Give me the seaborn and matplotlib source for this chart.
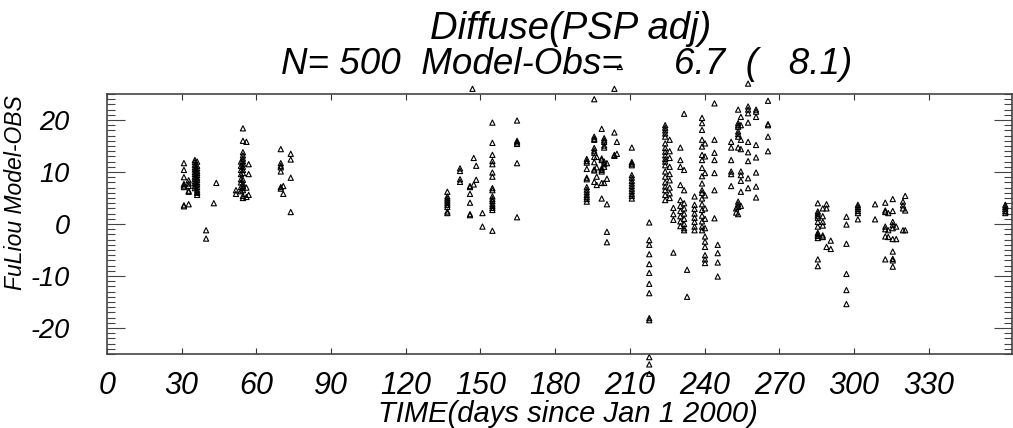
import matplotlib
matplotlib.use("Agg")
import matplotlib.pyplot as plt
import seaborn as sns
import pandas as pd
from matplotlib.ticker import MultipleLocator, FixedLocator

# ---- data: day of year (column) and Model-Obs differences (W/m2) ----
col_days = [
    30.9, 32.8, 35.3, 36.2, 39.8, 42.9, 43.9, 51.8, 53.8, 54.6, 56.0, 56.9,
    69.8, 70.8, 73.8,
    136.7, 141.8, 145.8, 146.8, 147.3, 148.3, 150.8, 154.8, 164.7,
    192.7, 195.7, 196.7, 198.7, 199.7, 200.8, 203.8, 204.8, 206.0, 210.8,
    217.8, 224.2, 226.0, 227.5, 230.3, 231.8, 233.0, 236.0, 239.0, 240.2,
    244.0, 245.3, 250.7, 252.7, 253.5, 254.6, 257.5, 260.7, 265.5,
    285.5, 287.5, 289.0, 290.7, 297.0, 301.6, 308.5, 312.6, 313.8, 315.6,
    317.0, 319.7, 320.6, 360.8,
]
col_values = [
    [11.7, 10.4, 9.0, 7.7, 7.4, 7.1, 3.4, 3.6],
    [7.8, 7.3, 6.4, 6.2, 3.8, 8.4],
    [12.3, 11.9, 11.4, 10.9, 10.5, 10.0, 9.6, 9.1, 8.7, 8.2, 7.8, 7.3, 6.9],
    [12.0, 11.2, 10.7, 10.2, 9.8, 9.4, 8.9, 8.5, 8.0, 7.6, 7.1, 6.6, 6.2, 5.6, 6.0],
    [-1.2, -2.8],
    [4.0],
    [7.9],
    [6.5, 5.8],
    [12.0, 11.2, 10.4, 9.6, 8.6, 8.0, 7.1, 6.3],
    [18.4, 16.0, 13.8, 13.2, 12.6, 12.1, 11.6, 11.0, 10.4, 9.8, 8.5, 7.8, 7.3, 6.9, 6.5, 5.4, 5.0],
    [15.8, 7.0, 5.2],
    [11.5, 9.6, 5.6],
    [14.4, 11.7, 11.2, 10.9, 10.1, 7.1, 6.8],
    [7.3, 5.8],
    [13.5, 12.4, 8.9, 2.3],
    [6.2, 5.3, 4.9, 4.5, 4.1, 3.7, 3.3, 2.4, 2.1],
    [10.7, 10.2, 8.6, 8.1],
    [7.3, 7.1, 5.8, 4.1, 1.9, 1.7],
    [26.0],
    [12.7, 7.6],
    [11.2, 8.5],
    [2.1, -0.5],
    [19.5, 15.6, 13.3, 12.1, 11.5, 9.9, 9.1, 6.9, 6.5, 5.3, 4.8, 4.4, 3.9, 3.5, 3.1, 2.7, -1.3],
    [19.9, 16.0, 15.7, 15.4, 11.7, 1.3],
    [12.5, 12.1, 11.8, 10.6, 8.9, 8.6, 7.1, 6.6, 6.1, 5.6, 5.2, 4.8, 4.3],
    [24.0, 16.8, 16.4, 16.2, 14.6, 14.1, 13.7, 12.9, 11.9, 10.5, 10.3, 8.1],
    [12.9, 10.9, 9.1, 7.5],
    [18.3, 12.6, 12.3, 10.7, 10.4, 10.1, 7.9, 4.9],
    [16.5, 16.1, 15.8, 15.1, 14.7, 12.0, 11.5, 11.0, 7.9],
    [11.7, 8.7, 3.8, -1.5, -3.5],
    [26.0, 17.6, 13.3, 13.1],
    [15.8, 13.5],
    [30.2],
    [14.7, 11.9, 11.6, 11.3, 9.4, 8.9, 8.3, 7.8, 7.3, 6.8, 6.3, 5.8, 5.4, 4.9],
    [0.3, -3.1, -4.0, -5.8, -7.7, -9.4, -11.5, -13.3, -18.1, -18.5, -25.6, -27.0, -28.8],
    [19.0, 18.5, 18.0, 17.4, 16.8, 15.5, 14.6, 13.9, 13.2, 12.5, 12.0, 11.3, 10.1, 9.1, 8.0, 7.2, 6.5, 5.6, 4.6],
    [16.2, 14.0, 12.7, 11.0, 9.6, 8.4, 7.0, 5.9, 5.0],
    [3.1, 1.9, 0.8, -5.5],
    [14.7, 12.3, 11.0, 7.5, 4.6, 3.5, 2.5, 1.5, 0.5, -0.4],
    [21.2, 10.4, 6.5, 4.0, 3.0, 2.0, 1.0, 0.0, -0.8, -1.2],
    [-8.8, -14.0],
    [5.3, 3.7, 2.9, 2.0, 1.2, 0.4, -0.5, -1.2],
    [20.4, 19.4, 18.1, 16.2, 14.9, 13.3, 12.3, 10.8, 9.2, 7.8, 6.5, 6.0, 4.9, 3.8, 2.7, 1.6, 0.5, -0.5, -1.2],
    [15.5, 13.0, 9.8, 5.5, 3.0, 1.0, -0.8, -2.4, -3.4, -4.4, -6.0, -6.8, -7.5],
    [23.2, 16.2, 13.7, 12.3, 9.8, 6.5, 1.1],
    [-4.0, -5.6, -7.4, -10.1],
    [15.8, 14.7, 12.3, 10.1, 9.6, 7.3],
    [3.0, 2.2],
    [22.0, 19.4, 19.0, 18.7, 17.8, 17.3, 16.8, 14.7, 4.3, 3.8, 3.3, 1.9],
    [20.6, 19.0, 16.2, 14.4, 10.1, 9.4, 8.3, 6.2, 3.5],
    [27.0, 22.6, 22.0, 21.3, 19.5, 15.8, 13.8, 12.1, 8.8, 6.9],
    [22.0, 21.6, 20.6, 15.2, 12.8, 9.9, 7.2, 5.1],
    [23.7, 19.2, 19.0, 16.8, 14.0],
    [4.0, 2.4, 2.0, 1.6, 1.2, 0.4, -0.5, -1.7, -2.0, -2.3, -2.7, -6.8, -8.1],
    [3.0, 1.5, 0.4, -0.3, -2.2, -2.5],
    [3.8, 3.0, -4.4],
    [-3.2, -4.8],
    [1.4, -0.1, -3.8, -9.6, -12.7, -15.4],
    [3.7, 3.3, 2.9, 2.5, 2.1, 0.9],
    [3.8, 0.9],
    [4.1, 2.6, 2.3, -0.5, -1.0, -2.4, -6.8],
    [2.1, -1.2, -2.5],
    [4.8, 2.5, 0.4, -0.2, -0.8, -2.9, -5.3, -6.7, -8.2, -7.0],
    [-0.5, -2.9],
    [4.3, 3.6, 3.0, -1.2],
    [5.4, 2.6, -1.2],
    [3.7, 3.3, 2.9, 2.5, 2.1],
]
x_ticks = [0, 30, 60, 90, 120, 150, 180, 210, 240, 270, 300, 330]
y_ticks = [-20, -10, 0, 10, 20]
title_line1 = "Diffuse(PSP adj)"
title_line2 = "N= 500  Model-Obs=     6.7  (   8.1)"
x_label = "TIME(days since Jan 1 2000)"
y_label = "FuLiou Model-OBS"

rows = [(d, v) for d, vals in zip(col_days, col_values) for v in vals]
df = pd.DataFrame(rows, columns=["day", "diff"])

sns.set_theme(style="white")
plt.rcParams["font.family"] = ["Liberation Sans", "DejaVu Sans"]
plt.rcParams["font.style"] = "italic"
plt.rcParams["text.color"] = "black"
plt.rcParams["xtick.color"] = "black"
plt.rcParams["ytick.color"] = "black"

W, H = 1013, 428
fig = plt.figure(figsize=(W / 100, H / 100), dpi=100)
ax = fig.add_axes([107 / W, 1 - 354 / H, (1012 - 107) / W, (354 - 94) / H])

sns.scatterplot(data=df, x="day", y="diff", ax=ax, marker="^", s=14,
                facecolor="none", edgecolor="black", linewidth=0.8,
                clip_on=False, legend=False)

ax.set_xlim(0, 363.5)
ax.set_ylim(-25, 25)
ax.xaxis.set_major_locator(FixedLocator(x_ticks))
ax.yaxis.set_major_locator(FixedLocator(y_ticks))
ax.yaxis.set_minor_locator(MultipleLocator(1))
ax.set_xticklabels([str(t) for t in x_ticks])
ax.set_yticklabels([str(t) for t in y_ticks])
ax.tick_params(axis="x", which="major", direction="in", length=4, width=0.8,
               top=True, bottom=True, labelsize=22, pad=12, colors="#333333",
               labelcolor="black")
ax.tick_params(axis="y", which="major", direction="in", length=13, width=0.8,
               left=True, right=True, labelsize=19.5, pad=27, colors="#444444",
               labelcolor="black")
ax.tick_params(axis="y", which="minor", direction="in", length=6, width=0.8,
               left=True, right=True, colors="#444444")
ax.tick_params(axis="x", which="minor", bottom=False, top=False)
for lab in ax.get_xticklabels() + ax.get_yticklabels():
    lab.set_fontstyle("italic")
for sp in ax.spines.values():
    sp.set_visible(True)
    sp.set_color("#444444")
    sp.set_linewidth(1.2)
ax.set_xlabel("")
ax.set_ylabel("")
ax.grid(False)

fig.text(568 / W, 1 - 414 / H, x_label, ha="center", va="center",
         fontsize=21, style="italic")
fig.text(16 / W, 1 - 193 / H, y_label, ha="center", va="center",
         rotation=90, fontsize=16.5, style="italic")
fig.text(571 / W, 1 - 29 / H, title_line1, ha="center", va="center",
         fontsize=27.5, style="italic")
fig.text(567 / W, 1 - 64 / H, title_line2, ha="center", va="center",
         fontsize=26.5, style="italic")

fig.savefig("out.png", dpi=100)
